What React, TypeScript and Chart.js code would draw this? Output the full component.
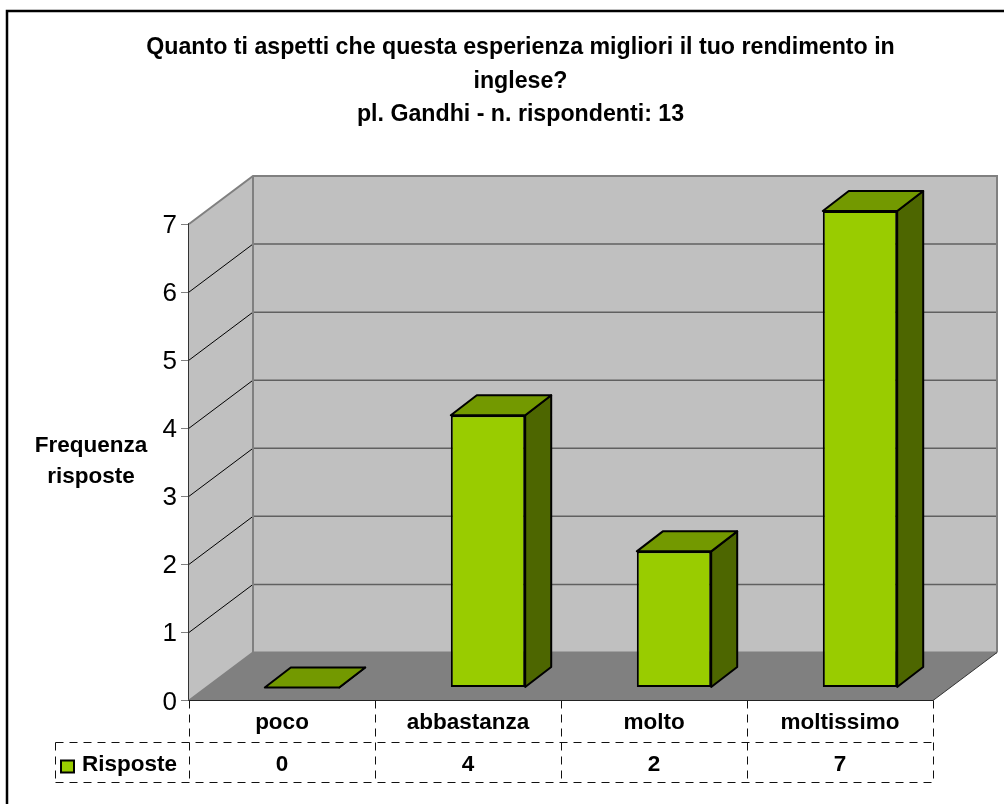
import React, { useEffect, useRef } from "react";
import { Chart, registerables } from "chart.js";

Chart.register(...registerables);

const categories = ["poco", "abbastanza", "molto", "moltissimo"];
const seriesName = "Risposte";
const seriesValues = [0, 4, 2, 7];
const yTicks = [0, 1, 2, 3, 4, 5, 6, 7];
const titleLines = [
  "Quanto ti aspetti che questa esperienza migliori il tuo rendimento in",
  "inglese?",
  "pl. Gandhi - n. rispondenti: 13",
];
const yTitleLines = ["Frequenza", "risposte"];

const FONT = "'Liberation Sans', Arial, sans-serif";
const GREEN = "#99CC00";
const GREEN_TOP = "#739900";
const GREEN_SIDE = "#4D6600";

const WALL_DX = 64;
const WALL_DY = -48;
const BAR_SHIFT_X = 20;
const BAR_SHIFT_Y = -13;
const BAR_DX = 26;
const BAR_DY = -20;

const scene = {
  id: "scene",
  beforeDraw(chart: any) {
    const { ctx, width, height } = chart;
    ctx.save();
    ctx.fillStyle = "#fff";
    ctx.fillRect(0, 0, width, height);
    ctx.strokeStyle = "#000";
    ctx.lineWidth = 2.5;
    ctx.lineJoin = "miter";
    ctx.beginPath();
    ctx.moveTo(7, height);
    ctx.lineTo(7, 11);
    ctx.lineTo(width, 11);
    ctx.stroke();
    ctx.restore();
  },
  beforeDatasetsDraw(chart: any) {
    const { ctx } = chart;
    const x = chart.scales.x;
    const y = chart.scales.y;
    const l = x.left;
    const r = x.right;
    const b = y.bottom;
    const t = y.top;
    ctx.save();
    // side wall
    ctx.fillStyle = "#C0C0C0";
    ctx.beginPath();
    ctx.moveTo(l, b);
    ctx.lineTo(l, t);
    ctx.lineTo(l + WALL_DX, t + WALL_DY);
    ctx.lineTo(l + WALL_DX, b + WALL_DY);
    ctx.closePath();
    ctx.fill();
    // back wall
    ctx.fillRect(l + WALL_DX, t + WALL_DY, r - l, b - t);
    // floor
    ctx.fillStyle = "#808080";
    ctx.beginPath();
    ctx.moveTo(l, b);
    ctx.lineTo(l + WALL_DX, b + WALL_DY);
    ctx.lineTo(r + WALL_DX, b + WALL_DY);
    ctx.lineTo(r, b);
    ctx.closePath();
    ctx.fill();
    // gridlines
    yTicks.forEach((v) => {
      if (v === 0 || v === 7) return;
      const py = y.getPixelForValue(v);
      ctx.strokeStyle = "#000";
      ctx.lineWidth = 1;
      ctx.beginPath();
      ctx.moveTo(l, py);
      ctx.lineTo(l + WALL_DX, py + WALL_DY);
      ctx.stroke();
      ctx.strokeStyle = "#606060";
      ctx.lineWidth = 1.5;
      ctx.beginPath();
      ctx.moveTo(l + WALL_DX, py + WALL_DY);
      ctx.lineTo(r + WALL_DX, py + WALL_DY);
      ctx.stroke();
    });
    // wall outlines
    ctx.strokeStyle = "#808080";
    ctx.lineWidth = 2;
    ctx.beginPath();
    ctx.moveTo(l, t);
    ctx.lineTo(l + WALL_DX, t + WALL_DY);
    ctx.lineTo(r + WALL_DX, t + WALL_DY);
    ctx.lineTo(r + WALL_DX, b + WALL_DY);
    ctx.moveTo(l + WALL_DX, t + WALL_DY);
    ctx.lineTo(l + WALL_DX, b + WALL_DY);
    ctx.lineTo(r + WALL_DX, b + WALL_DY);
    ctx.moveTo(l, b);
    ctx.lineTo(l + WALL_DX, b + WALL_DY);
    ctx.stroke();
    ctx.strokeStyle = "#333";
    ctx.lineWidth = 1;
    ctx.beginPath();
    ctx.moveTo(r, b);
    ctx.lineTo(r + WALL_DX, b + WALL_DY);
    ctx.stroke();
    ctx.restore();
  },
  beforeDatasetDraw(chart: any, args: any) {
    const { ctx } = chart;
    ctx.save();
    ctx.translate(BAR_SHIFT_X, BAR_SHIFT_Y);
    const meta = chart.getDatasetMeta(args.index);
    ctx.lineWidth = 2;
    ctx.strokeStyle = "#000";
    ctx.lineJoin = "round";
    meta.data.forEach((bar: any) => {
      const { x, y, base, width } = bar.getProps(["x", "y", "base", "width"], true);
      const a = x - width / 2;
      const c = x + width / 2;
      ctx.fillStyle = GREEN_SIDE;
      ctx.beginPath();
      ctx.moveTo(c, y);
      ctx.lineTo(c + BAR_DX, y + BAR_DY);
      ctx.lineTo(c + BAR_DX, base + BAR_DY);
      ctx.lineTo(c, base);
      ctx.closePath();
      ctx.fill();
      ctx.stroke();
      ctx.fillStyle = GREEN_TOP;
      ctx.beginPath();
      ctx.moveTo(a, y);
      ctx.lineTo(a + BAR_DX, y + BAR_DY);
      ctx.lineTo(c + BAR_DX, y + BAR_DY);
      ctx.lineTo(c, y);
      ctx.closePath();
      ctx.fill();
      ctx.stroke();
    });
  },
  afterDatasetDraw(chart: any) {
    chart.ctx.restore();
  },
  afterDatasetsDraw(chart: any) {
    const { ctx } = chart;
    const x = chart.scales.x;
    const y = chart.scales.y;
    const b = y.bottom;
    const rowTop = 742.5;
    const rowBottom = 782.5;
    const cell = (x.right - x.left) / categories.length;
    ctx.save();
    ctx.strokeStyle = "#111";
    ctx.lineWidth = 1;
    ctx.setLineDash([8, 6]);
    ctx.beginPath();
    for (let i = 0; i <= categories.length; i++) {
      const px = Math.round(x.left + i * cell) + 0.5;
      ctx.moveTo(px, b);
      ctx.lineTo(px, rowBottom);
    }
    ctx.moveTo(55.5, rowTop);
    ctx.lineTo(x.right, rowTop);
    ctx.moveTo(55.5, rowBottom);
    ctx.lineTo(x.right, rowBottom);
    ctx.moveTo(55.5, rowTop);
    ctx.lineTo(55.5, rowBottom);
    ctx.stroke();
    ctx.setLineDash([]);
    // axis line along the front of the floor
    ctx.strokeStyle = "#222";
    ctx.beginPath();
    ctx.moveTo(x.left, Math.floor(b) + 0.5);
    ctx.lineTo(x.right, Math.floor(b) + 0.5);
    ctx.stroke();
    // legend key
    ctx.strokeStyle = "#000";
    ctx.fillStyle = GREEN;
    ctx.lineWidth = 2;
    ctx.fillRect(61, 760.5, 13, 12);
    ctx.strokeRect(61, 760.5, 13, 12);
    // y-axis tick labels
    ctx.fillStyle = "#000";
    ctx.font = `26px ${FONT}`;
    ctx.textAlign = "right";
    ctx.textBaseline = "alphabetic";
    y.ticks.forEach((tick: any) => {
      ctx.fillText(String(tick.value), 177, y.getPixelForValue(tick.value) + 9);
    });
    // row texts
    ctx.font = `bold 22.5px ${FONT}`;
    ctx.textBaseline = "middle";
    ctx.textAlign = "left";
    ctx.fillText(seriesName, 82, 765);
    ctx.textAlign = "center";
    seriesValues.forEach((v, i) => {
      ctx.fillText(String(v), x.getPixelForValue(i), 765);
    });
    // vertical axis title, horizontal text
    yTitleLines.forEach((s, i) => {
      ctx.fillText(s, 91, 446 + i * 31);
    });
    ctx.restore();
  },
};

export default function App() {
  const ref = useRef<HTMLCanvasElement | null>(null);
  useEffect(() => {
    const chart = new Chart(ref.current as HTMLCanvasElement, {
      type: "bar",
      data: {
        labels: categories,
        datasets: [
          {
            label: seriesName,
            data: seriesValues,
            backgroundColor: GREEN,
            borderColor: "#000",
            borderWidth: 2,
            borderSkipped: false,
            barPercentage: 0.4,
            categoryPercentage: 1,
          },
        ],
      },
      options: {
        animation: false,
        responsive: false,
        layout: { padding: { left: 108, right: 71, top: 0, bottom: 61.5 } },
        plugins: {
          legend: { display: false },
          tooltip: { enabled: false },
          title: {
            display: true,
            text: titleLines,
            color: "#000",
            font: { family: FONT, size: 23.2, weight: "bold", lineHeight: 1.444 },
            padding: { top: 31, bottom: 92.5 },
          },
        },
        scales: {
          x: {
            afterFit: (s: any) => {
              s.height = 42;
            },
            border: { display: false },
            grid: { display: false },
            ticks: { color: "#000", font: { family: FONT, size: 22.5, weight: "bold" }, padding: 1, maxRotation: 0 },
          },
          y: {
            min: 0,
            max: 7,
            afterFit: (s: any) => {
              s.width = 81;
            },
            border: { color: "#333", width: 1.5 },
            grid: { drawOnChartArea: false, color: "#808080", tickLength: 8 },
            ticks: { display: false, stepSize: 1 },
          },
        },
      },
      plugins: [scene],
    } as any);
    return () => chart.destroy();
  }, []);
  return (
    <div style={{ position: "absolute", left: 0, top: 0, width: 1004, height: 804 }}>
      <canvas ref={ref} width={1004} height={804} style={{ display: "block", width: 1004, height: 804 }} />
    </div>
  );
}
